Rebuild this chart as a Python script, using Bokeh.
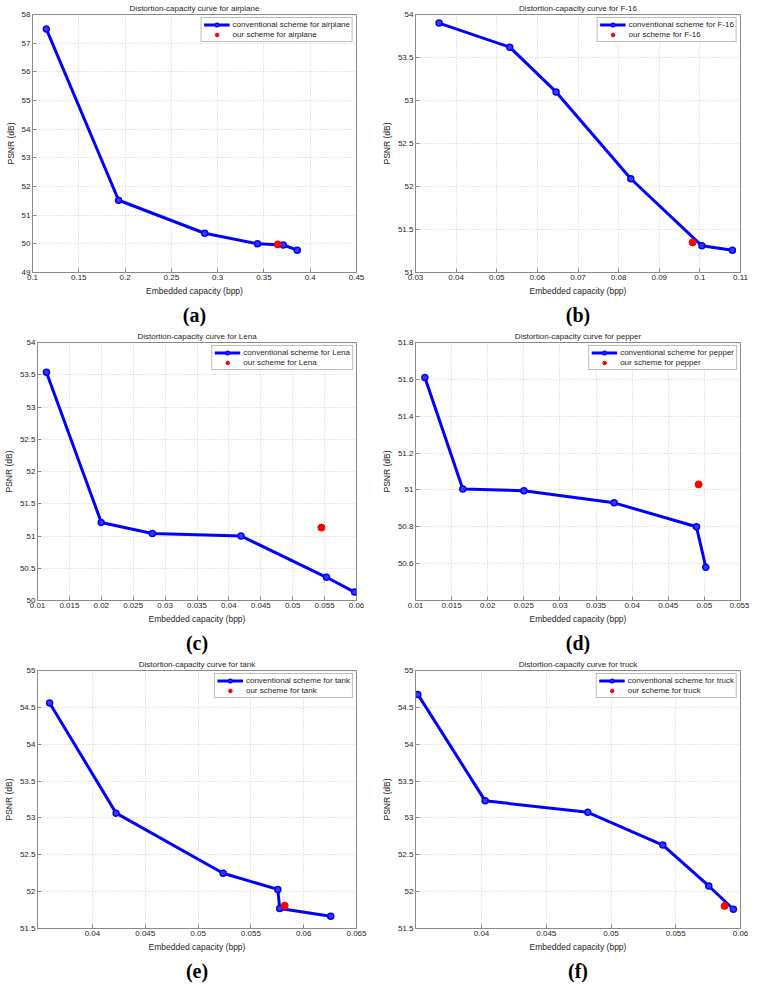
from bokeh.plotting import figure
from bokeh.models import (Range1d, FixedTicker, CustomJSTickFormatter, Legend,
                          LegendItem, Title)
from bokeh.layouts import column, row
from bokeh.embed import file_html
from bokeh.resources import INLINE

# ---------------- data ----------------
# (a) airplane
a_name = "airplane"
a_x = [0.115, 0.193, 0.286, 0.343, 0.371, 0.386]
a_y = [57.49, 51.52, 50.37, 50.00, 49.96, 49.78]
a_ours_x = [0.365]
a_ours_y = [49.98]
a_xlim = (0.1, 0.45)
a_ylim = (49, 58)
a_xticks = [0.1, 0.15, 0.2, 0.25, 0.3, 0.35, 0.4, 0.45]
a_yticks = [49, 50, 51, 52, 53, 54, 55, 56, 57, 58]

# (b) F-16
b_name = "F-16"
b_x = [0.0358, 0.0532, 0.0646, 0.0830, 0.1005, 0.1080]
b_y = [53.90, 53.62, 53.10, 52.09, 51.31, 51.26]
b_ours_x = [0.0982]
b_ours_y = [51.35]
b_xlim = (0.03, 0.11)
b_ylim = (51, 54)
b_xticks = [0.03, 0.04, 0.05, 0.06, 0.07, 0.08, 0.09, 0.1, 0.11]
b_yticks = [51, 51.5, 52, 52.5, 53, 53.5, 54]

# (c) Lena
c_name = "Lena"
c_x = [0.0114, 0.0200, 0.0280, 0.0419, 0.0553, 0.0597]
c_y = [53.54, 51.21, 51.04, 51.00, 50.36, 50.13]
c_ours_x = [0.0545]
c_ours_y = [51.13]
c_xlim = (0.01, 0.06)
c_ylim = (50, 54)
c_xticks = [0.01, 0.015, 0.02, 0.025, 0.03, 0.035, 0.04, 0.045, 0.05, 0.055, 0.06]
c_yticks = [50, 50.5, 51, 51.5, 52, 52.5, 53, 53.5, 54]

# (d) pepper
d_name = "pepper"
d_x = [0.0113, 0.01655, 0.0250, 0.0375, 0.0489, 0.0502]
d_y = [51.61, 51.005, 50.996, 50.93, 50.80, 50.58]
d_ours_x = [0.0492]
d_ours_y = [51.03]
d_xlim = (0.01, 0.055)
d_ylim = (50.4, 51.8)
d_xticks = [0.01, 0.015, 0.02, 0.025, 0.03, 0.035, 0.04, 0.045, 0.05, 0.055]
d_yticks = [50.6, 50.8, 51, 51.2, 51.4, 51.6, 51.8]

# (e) tank
e_name = "tank"
e_x = [0.03595, 0.04224, 0.05237, 0.05755, 0.05773, 0.06256]
e_y = [54.56, 53.065, 52.25, 52.03, 51.77, 51.665]
e_ours_x = [0.0582]
e_ours_y = [51.81]
e_xlim = (0.0348, 0.065)
e_ylim = (51.5, 55)
e_xticks = [0.04, 0.045, 0.05, 0.055, 0.06, 0.065]
e_yticks = [51.5, 52, 52.5, 53, 53.5, 54, 54.5, 55]

# (f) truck
f_name = "truck"
f_x = [0.03508, 0.04028, 0.04821, 0.0540, 0.05755, 0.05945]
f_y = [54.676, 53.232, 53.076, 52.632, 52.077, 51.761]
f_ours_x = [0.05877]
f_ours_y = [51.806]
f_xlim = (0.0349, 0.06)
f_ylim = (51.5, 55)
f_xticks = [0.04, 0.045, 0.05, 0.055, 0.06]
f_yticks = [51.5, 52, 52.5, 53, 53.5, 54, 54.5, 55]

# ---------------- styling ----------------
SANS = "Liberation Sans"
SERIF = "Liberation Serif"
GRAY = "#8a8a8a"
TXT = "#1e1e1e"

fmt_code = "return Number(tick.toFixed(5)).toString();"


def panel(name, tag, xs, ys, ox, oy, xlim, ylim, xticks, yticks,
          width, left, right):
    p = figure(width=width, height=328, output_backend="svg",
               toolbar_location=None,
               x_range=Range1d(*xlim), y_range=Range1d(*ylim),
               min_border_left=left, min_border_right=right,
               min_border_top=14, min_border_bottom=52,
               background_fill_color="white", border_fill_color="white")
    p.add_layout(Title(text="Distortion-capacity curve for " + name,
                       align="center", text_font_size="8px",
                       text_font_style="normal", text_font=SANS,
                       text_color=TXT, standoff=3), "above")

    p.xaxis.ticker = FixedTicker(ticks=xticks)
    p.yaxis.ticker = FixedTicker(ticks=yticks)
    for ax in (p.xaxis[0], p.yaxis[0]):
        ax.formatter = CustomJSTickFormatter(code=fmt_code)
        ax.major_label_text_font = SANS
        ax.major_label_text_font_size = "8px"
        ax.major_label_text_color = TXT
        ax.axis_label_text_font = SANS
        ax.axis_label_text_font_size = "8.5px"
        ax.axis_label_text_font_style = "normal"
        ax.axis_label_text_color = TXT
        ax.major_tick_in = 4
        ax.major_tick_out = 0
        ax.minor_tick_in = 0
        ax.minor_tick_out = 0
        ax.major_tick_line_color = GRAY
        ax.axis_line_color = GRAY
        ax.major_label_standoff = 2
        ax.axis_label_standoff = 3
    p.xaxis.axis_label = "Embedded capacity (bpp)"
    p.yaxis.axis_label = "PSNR (dB)"

    p.outline_line_color = GRAY
    p.outline_line_width = 1
    p.grid.grid_line_color = "#cccccc"
    p.grid.grid_line_dash = "1 2"
    p.grid.grid_line_width = 1

    ln = p.line(xs, ys, line_color="#0000ff", line_width=3)
    mk = p.scatter(xs, ys, marker="circle", size=6, line_color="#0000ff",
                   line_width=1.5, fill_color="#3a3aff")
    rd = p.scatter(ox, oy, marker="circle", size=7, line_color="#ff0000",
                   fill_color="#ff0000")

    leg = Legend(items=[
        LegendItem(label="conventional scheme for " + name, renderers=[ln, mk]),
        LegendItem(label="our scheme for " + name, renderers=[rd]),
    ], location="top_right")
    leg.label_text_font = SANS
    leg.label_text_font_size = "8px"
    leg.label_text_color = TXT
    leg.label_height = 9
    leg.glyph_height = 9
    leg.glyph_width = 26
    leg.label_standoff = 3
    leg.spacing = 1
    leg.padding = 2
    leg.margin = 3
    leg.border_line_color = "#777777"
    leg.border_line_width = 1
    leg.background_fill_color = "white"
    leg.background_fill_alpha = 1
    p.add_layout(leg)

    p.add_layout(Title(text=tag, align="center", text_font=SERIF,
                       text_font_size="20px", text_font_style="bold",
                       text_color="black", standoff=6), "below")
    return p


LW, RW = 378, 371
pa = panel(a_name, "(a)", a_x, a_y, a_ours_x, a_ours_y, a_xlim, a_ylim, a_xticks, a_yticks, LW, 32, 22)
pb = panel(b_name, "(b)", b_x, b_y, b_ours_x, b_ours_y, b_xlim, b_ylim, b_xticks, b_yticks, RW, 36, 9)
pc = panel(c_name, "(c)", c_x, c_y, c_ours_x, c_ours_y, c_xlim, c_ylim, c_xticks, c_yticks, LW, 32, 22)
pd = panel(d_name, "(d)", d_x, d_y, d_ours_x, d_ours_y, d_xlim, d_ylim, d_xticks, d_yticks, RW, 36, 9)
pe = panel(e_name, "(e)", e_x, e_y, e_ours_x, e_ours_y, e_xlim, e_ylim, e_xticks, e_yticks, LW, 32, 22)
pf = panel(f_name, "(f)", f_x, f_y, f_ours_x, f_ours_y, f_xlim, f_ylim, f_xticks, f_yticks, RW, 36, 9)

layout = column(row(pa, pb), row(pc, pd), row(pe, pf))

open("out.html", "w").write(file_html(layout, INLINE))
